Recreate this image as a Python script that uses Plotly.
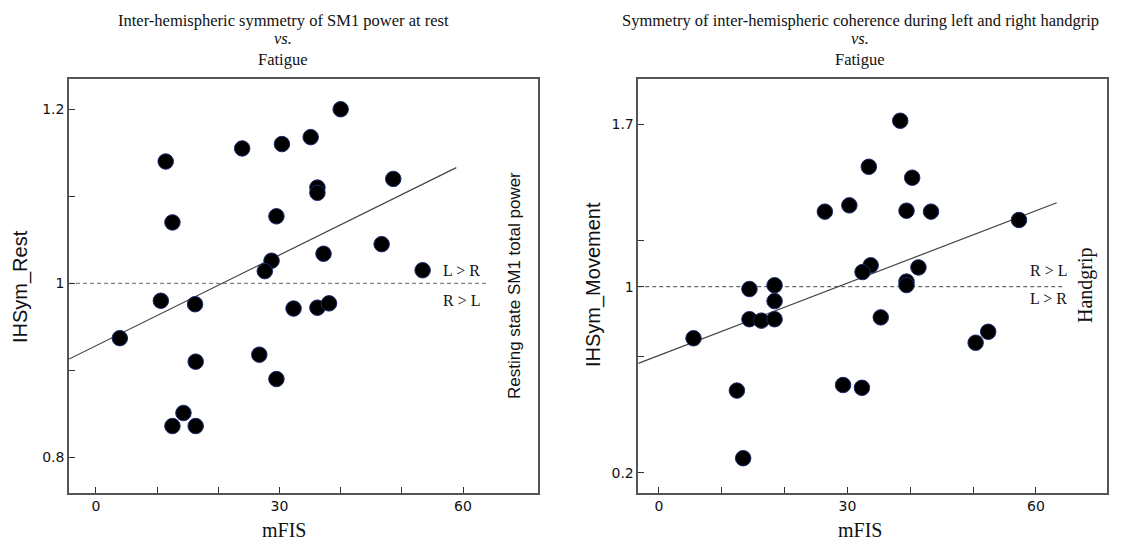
import plotly.graph_objects as go

# ---------------- data ----------------
rest_mfis = [3.9, 11.4, 12.5, 10.6, 16.2, 23.9, 30.4, 29.5, 28.7, 27.6, 32.3, 40.0, 35.1, 36.2,
             36.2, 48.6, 46.7, 37.2, 53.4, 36.2, 38.1, 16.3, 26.7, 29.5, 14.3, 12.5, 16.3]
rest_ihsym = [0.937, 1.140, 1.070, 0.980, 0.976, 1.155, 1.160, 1.077, 1.026, 1.014, 0.971, 1.200,
              1.168, 1.110, 1.104, 1.120, 1.045, 1.034, 1.015, 0.972, 0.977, 0.910, 0.918, 0.890,
              0.851, 0.836, 0.836]
rest_fit_x = [-4.4, 58.9]
rest_fit_y = [0.913, 1.133]
rest_ref_x = [-4.4, 63.9]

mov_mfis = [33.4, 26.4, 30.3, 33.7, 32.4, 14.4, 18.4, 18.4, 14.4, 16.3, 18.4, 38.4, 40.3, 39.4,
            43.3, 57.3, 41.3, 39.4, 39.4, 35.3, 5.5, 12.4, 13.4, 29.3, 32.3, 50.4, 52.4]
mov_ihsym = [1.516, 1.323, 1.350, 1.092, 1.063, 0.990, 1.006, 0.938, 0.860, 0.854, 0.860, 1.714,
             1.469, 1.327, 1.323, 1.287, 1.083, 1.022, 1.007, 0.868, 0.778, 0.553, 0.262, 0.577,
             0.565, 0.759, 0.806]
mov_fit_x = [-3.3, 63.3]
mov_fit_y = [0.670, 1.361]
mov_ref_x = [-3.3, 64.3]

x_tickvals = [0, 10, 20, 30, 40, 50, 60]
x_ticktext = ["0", "", "", "30", "", "", "60"]
rest_tickvals = [0.8, 0.9, 1.0, 1.1, 1.2]
rest_ticktext = ["0.8", "", "1", "", "1.2"]
mov_tickvals = [0.2, 0.7, 1.0, 1.2, 1.7]
mov_ticktext = ["0.2", "", "1", "", "1.7"]

W, H = 1148, 540
OFF = 8  # page body margin
SERIF = "Liberation Serif"
SANS = "Liberation Sans"
TICKF = "DejaVu Sans"
AXC = "#555555"

def px_x(p):
    return (p - OFF) / W

def px_y(p):
    return 1 - (p - OFF) / H

fig = go.Figure()

marker = dict(size=15.5, color="black", line=dict(color="#1a2a6c", width=1))

# left panel
fig.add_trace(go.Scatter(x=rest_ref_x, y=[1, 1], mode="lines",
                         line=dict(color="#666666", width=1, dash="4px,3px"),
                         xaxis="x", yaxis="y", showlegend=False, hoverinfo="skip"))
fig.add_trace(go.Scatter(x=rest_fit_x, y=rest_fit_y, mode="lines",
                         line=dict(color="#444444", width=1.2),
                         xaxis="x", yaxis="y", showlegend=False, hoverinfo="skip"))
fig.add_trace(go.Scatter(x=rest_mfis, y=rest_ihsym, mode="markers", marker=marker,
                         xaxis="x", yaxis="y", showlegend=False))

# right panel
fig.add_trace(go.Scatter(x=mov_ref_x, y=[1, 1], mode="lines",
                         line=dict(color="#444444", width=1, dash="4px,3px"),
                         xaxis="x2", yaxis="y2", showlegend=False, hoverinfo="skip"))
fig.add_trace(go.Scatter(x=mov_fit_x, y=mov_fit_y, mode="lines",
                         line=dict(color="#444444", width=1.2),
                         xaxis="x2", yaxis="y2", showlegend=False, hoverinfo="skip"))
fig.add_trace(go.Scatter(x=mov_mfis, y=mov_ihsym, mode="markers", marker=marker,
                         xaxis="x2", yaxis="y2", showlegend=False))

ydom = [px_y(492.7), px_y(79)]

def xax(domain, rng, anchor):
    return dict(domain=domain, range=rng, anchor=anchor, tickvals=x_tickvals, ticktext=x_ticktext,
                ticks="inside", ticklen=6, tickwidth=1.2, tickcolor="#333",
                showline=True, linecolor=AXC, linewidth=1.5, mirror=True,
                showgrid=False, zeroline=False,
                tickfont=dict(family=TICKF, size=14, color="#111"))

def yax(rng, anchor, tv, tt):
    return dict(domain=ydom, range=rng, anchor=anchor, tickvals=tv, ticktext=tt,
                ticks="inside", ticklen=6, tickwidth=1.2, tickcolor="#333",
                showline=True, linecolor=AXC, linewidth=1.5, mirror=True,
                showgrid=False, zeroline=False,
                tickfont=dict(family=TICKF, size=14, color="#111"))

fig.update_layout(
    width=W, height=H, margin=dict(l=0, r=0, t=0, b=0),
    paper_bgcolor="white", plot_bgcolor="white", showlegend=False,
    xaxis=xax([px_x(69), px_x(538)], [-4.41, 72.26], "y"),
    yaxis=yax([0.7594, 1.2348], "x", rest_tickvals, rest_ticktext),
    xaxis2=xax([px_x(638.3), px_x(1106.7)], [-3.29, 71.26], "y2"),
    yaxis2=yax([0.1136, 1.8937], "x2", mov_tickvals, mov_ticktext),
)

def ann(text, xp, yp, size, family=SERIF, angle=0, xanchor="center", yanchor="middle"):
    fig.add_annotation(text=text, x=px_x(xp), y=px_y(yp), xref="paper", yref="paper",
                       showarrow=False, textangle=angle, xanchor=xanchor, yanchor=yanchor,
                       font=dict(family=family, size=size, color="#111"))

# titles
ann("Inter-hemispheric symmetry of SM1 power at rest", 283, 20, 16.5)
ann("<i>vs.</i>", 283, 39, 16.5)
ann("Fatigue", 283, 59, 16.5)
ann("Symmetry of inter-hemispheric coherence during left and right handgrip", 860, 20, 16.5)
ann("<i>vs.</i>", 860, 39, 16.5)
ann("Fatigue", 860, 59, 16.5)

# axis titles
ann("mFIS", 284, 530, 20)
ann("mFIS", 860, 530, 20)
ann("IHSym_Rest", 20, 287, 20, family=SANS, angle=-90)
ann("IHSym_Movement", 593, 285, 20, family=SANS, angle=-90)

# side labels
ann("L &gt; R", 461, 270, 16)
ann("R &gt; L", 461, 300, 16)
ann("Resting state SM1 total power", 514, 286, 17, family=SANS, angle=-90)
ann("R &gt; L", 1048, 270, 16)
ann("L &gt; R", 1048, 298, 16)
ann("Handgrip", 1085, 285, 20, angle=-90)

fig.write_html("out.html")
